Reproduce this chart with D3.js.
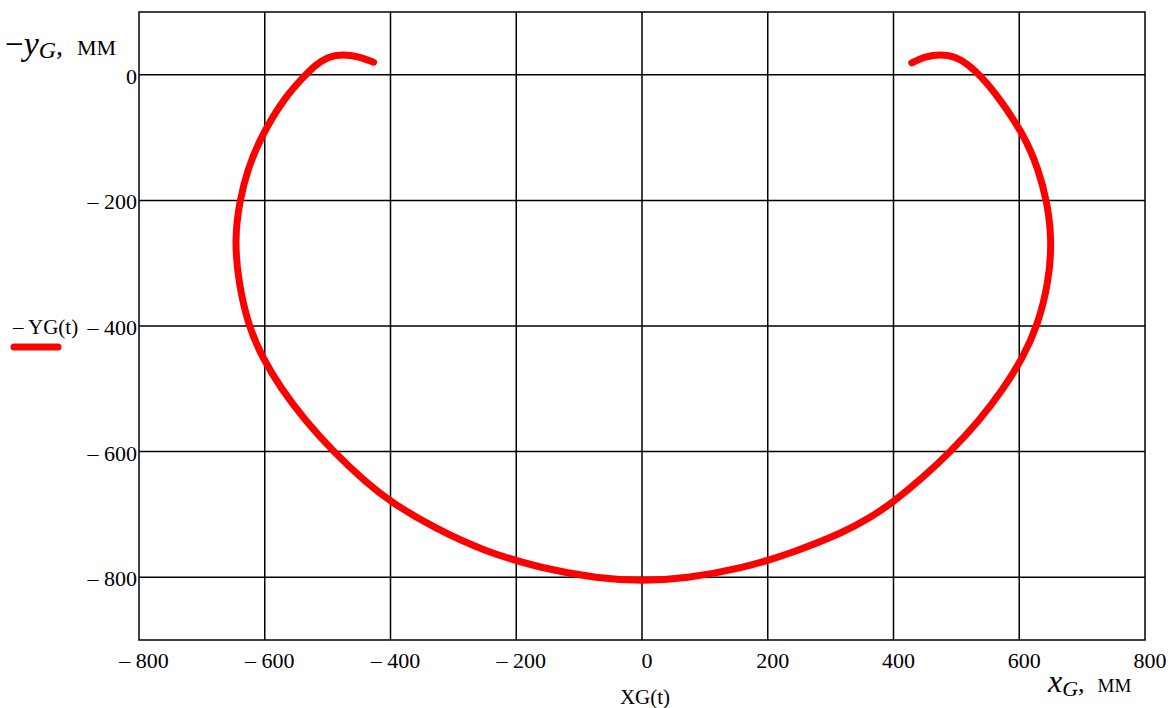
<!DOCTYPE html>
<html><head><meta charset="utf-8">
<script src="https://cdn.jsdelivr.net/npm/d3@7"></script>
<style>body{margin:0;background:#fff;} svg{display:block;font-family:"Liberation Serif","Times New Roman",serif;}</style>
</head><body>
<svg id="c" width="1173" height="708"></svg>
<script>
// Data: trajectory of point G (mm)
const xG = [-427,-450,-475,-500,-520,-535,-568,-607,-627,-640,-648,-642,-626,-604,-574,-536,-491,-438,-400,-330,-250,-160,-70,0,70,160,240,320,362,400,445,491,537,575,606,629,647,652,644,630,610,567,537,520,500,474,450,429];
const yG = [20,29,33,29,15,0,-35,-100,-150,-200,-262,-330,-400,-450,-500,-550,-600,-650,-680,-722,-759,-786,-802,-806,-802,-786,-761,-729,-706,-680,-643,-600,-550,-500,-450,-400,-330,-262,-200,-150,-100,-35,0,15,29,33,29,19];
const xTicks = [-800,-600,-400,-200,0,200,400,600,800];
const yTicks = [0,-200,-400,-600,-800];
const xGrid = [-600,-400,-200,0,200,400,600];
const yGrid = [0,-200,-400,-600,-800];

const svg = d3.select("#c");
const L=139, R=1145, T=12, B=640;
const x = d3.scaleLinear().domain([-800,800]).range([L,R]);
const y = d3.scaleLinear().domain([-900,100]).range([B,T]);
const fmt = v => v<0 ? "\u2013 " + Math.abs(v) : String(v);

// grid
svg.append("g").selectAll("line").data(xGrid).join("line")
  .attr("x1",d=>x(d)).attr("x2",d=>x(d)).attr("y1",T).attr("y2",B)
  .attr("stroke","#000").attr("stroke-width",1.5);
svg.append("g").selectAll("line").data(yGrid).join("line")
  .attr("x1",L).attr("x2",R).attr("y1",d=>y(d)).attr("y2",d=>y(d))
  .attr("stroke","#000").attr("stroke-width",1.5);
svg.append("rect").attr("x",L).attr("y",T).attr("width",R-L).attr("height",B-T)
  .attr("fill","none").attr("stroke","#000").attr("stroke-width",1.5);

// tick labels
svg.append("g").selectAll("text").data(xTicks).join("text")
  .attr("x",d=>x(d)+5).attr("y",668).attr("text-anchor","middle")
  .attr("font-size",22).text(fmt);
svg.append("g").selectAll("text").data(yTicks).join("text")
  .attr("x",137).attr("y",d=>y(d)+9).attr("text-anchor","end")
  .attr("font-size",22).text(fmt);

// curve
const pts = xG.map((v,i)=>[v,yG[i]]);
svg.append("path").datum(pts)
  .attr("d", d3.line().x(d=>x(d[0])).y(d=>y(d[1])).curve(d3.curveBasis))
  .attr("fill","none").attr("stroke","#ff0000").attr("stroke-width",7)
  .attr("stroke-linecap","round").attr("stroke-linejoin","round");

// axis titles
const yt = svg.append("text").attr("x",5).attr("y",55);
yt.append("tspan").attr("font-size",33).text("\u2212");
yt.append("tspan").attr("font-size",34).attr("font-style","italic").text("y");
yt.append("tspan").attr("font-size",24).attr("font-style","italic").attr("dy",3).text("G");
yt.append("tspan").attr("font-size",28).attr("dy",-3).text(",\u2002");
yt.append("tspan").attr("font-size",31).attr("font-variant","small-caps").text("мм");

const xt = svg.append("text").attr("x",1048).attr("y",692);
xt.append("tspan").attr("font-size",32).attr("font-style","italic").text("x");
xt.append("tspan").attr("font-size",22).attr("font-style","italic").attr("dy",4).text("G");
xt.append("tspan").attr("font-size",26).attr("dy",-4).text(",\u2002");
xt.append("tspan").attr("font-size",27).attr("font-variant","small-caps").text("мм");

svg.append("text").attr("x",645).attr("y",704).attr("text-anchor","middle")
  .attr("font-size",21).text("XG(t)");

// legend
svg.append("text").attr("x",13).attr("y",334).attr("font-size",21).text("\u2013 YG(t)");
svg.append("line").attr("x1",14).attr("x2",58).attr("y1",347).attr("y2",347)
  .attr("stroke","#ff0000").attr("stroke-width",7).attr("stroke-linecap","round");
</script>
</body></html>
